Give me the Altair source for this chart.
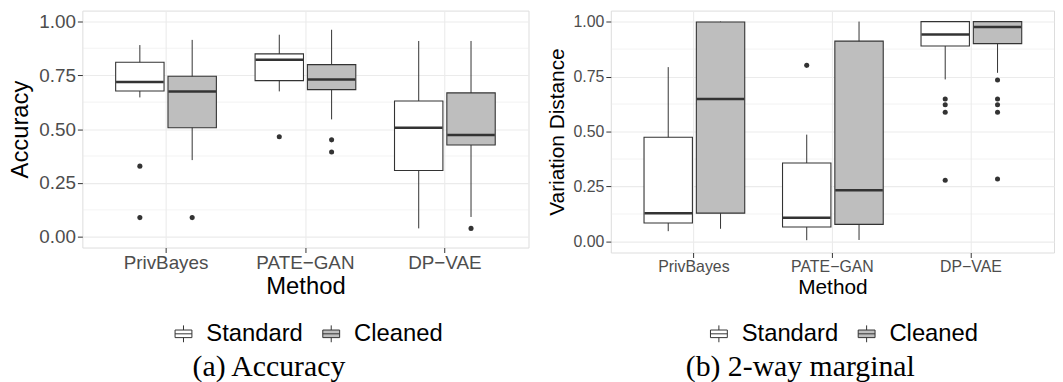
import altair as alt
import pandas as pd

methods = ["PrivBayes", "PATE\u2212GAN", "DP\u2212VAE"]
variants = ["Standard", "Cleaned"]

# order: (PrivBayes Std, PrivBayes Cl, PATE Std, PATE Cl, DPVAE Std, DPVAE Cl)
acc_lower = [0.647, 0.356, 0.675, 0.545, 0.039, 0.092]
acc_q1 = [0.677, 0.506, 0.725, 0.683, 0.308, 0.426]
acc_median = [0.719, 0.674, 0.822, 0.730, 0.506, 0.473]
acc_q3 = [0.810, 0.745, 0.849, 0.799, 0.630, 0.668]
acc_upper = [0.890, 0.914, 0.938, 0.961, 0.909, 0.909]
acc_out_method = ["PrivBayes", "PrivBayes", "PrivBayes", "PATE\u2212GAN", "PATE\u2212GAN", "PATE\u2212GAN", "DP\u2212VAE"]
acc_out_variant = ["Standard", "Standard", "Cleaned", "Standard", "Cleaned", "Cleaned", "Cleaned"]
acc_out_value = [0.328, 0.089, 0.089, 0.464, 0.450, 0.394, 0.039]

tvd_lower = [0.047, 0.058, 0.006, 0.007, 0.737, 0.767]
tvd_q1 = [0.084, 0.129, 0.066, 0.078, 0.889, 0.900]
tvd_median = [0.129, 0.648, 0.108, 0.233, 0.941, 0.975]
tvd_q3 = [0.474, 0.998, 0.357, 0.911, 1.0, 1.0]
tvd_upper = [0.793, 1.0, 0.486, 1.0, 1.0, 1.0]
tvd_out_method = ["PATE\u2212GAN", "DP\u2212VAE", "DP\u2212VAE", "DP\u2212VAE", "DP\u2212VAE",
                  "DP\u2212VAE", "DP\u2212VAE", "DP\u2212VAE", "DP\u2212VAE", "DP\u2212VAE"]
tvd_out_variant = ["Standard", "Standard", "Standard", "Standard", "Standard",
                   "Cleaned", "Cleaned", "Cleaned", "Cleaned", "Cleaned"]
tvd_out_value = [0.801, 0.648, 0.622, 0.588, 0.279, 0.734, 0.648, 0.622, 0.588, 0.284]

y_ticks = [0.0, 0.25, 0.5, 0.75, 1.0]
y_minor = [0.125, 0.375, 0.625, 0.875]

FONT = "Liberation Sans"
DARK = "#333333"
GRID = "#EBEBEB"
BOX_SYMBOL = "M-1,-0.45H1V0.45H-1Z M-1,0H1 M0,-0.45V-1 M0,0.45V1"


def panel(lower, q1, med, q3, upper, om, ov, oval, ytitle, caption,
          width, height, label_size, title_size, leg_x, leg_y, tick_w, cap_off):
    grp_m = [m for m in methods for _ in variants]
    grp_v = [v for _ in methods for v in variants]
    stats = pd.DataFrame({"method": grp_m, "variant": grp_v, "lower": lower,
                          "q1": q1, "median": med, "q3": q3, "upper": upper})
    outs = pd.DataFrame({"method": om, "variant": ov, "value": oval})
    minor = pd.DataFrame({"v": y_minor})

    yscale = alt.Scale(domain=[-0.05, 1.05], nice=False, zero=False)
    xenc = alt.X("method:N", scale=alt.Scale(domain=methods, paddingInner=0, paddingOuter=0.1),
                 axis=alt.Axis(title="Method", labelAngle=0, labelFontSize=label_size,
                               titleFontSize=title_size, labelFont=FONT, titleFont=FONT,
                               labelColor="#4D4D4D", titleColor="black", titleFontWeight="normal",
                               tickColor=DARK, tickSize=5, labelPadding=1, titlePadding=2,
                               domain=False, grid=True, gridColor=GRID, gridWidth=1.1))
    xoff = alt.XOffset("variant:N", scale=alt.Scale(domain=variants, paddingInner=0.075, paddingOuter=0.37))
    yaxis = alt.Axis(title=ytitle, values=y_ticks, format=".2f", labelFontSize=label_size,
                     titleFontSize=title_size, labelFont=FONT, titleFont=FONT,
                     labelColor="#4D4D4D", titleColor="black", titleFontWeight="normal",
                     tickColor=DARK, tickSize=5, labelPadding=2, titlePadding=6,
                     domain=False, grid=True, gridColor=GRID, gridWidth=1.1)

    minor_layer = alt.Chart(minor).mark_rule(color=GRID, strokeWidth=0.6).encode(
        y=alt.Y("v:Q", scale=yscale, axis=yaxis))
    whisk = alt.Chart(stats).mark_rule(color=DARK, strokeWidth=1).encode(
        x=xenc, xOffset=xoff, y=alt.Y("lower:Q", scale=yscale), y2="upper:Q")
    box = alt.Chart(stats).mark_bar(stroke=DARK, strokeWidth=1.1, opacity=1).encode(
        x=xenc, xOffset=xoff, y=alt.Y("q1:Q", scale=yscale), y2="q3:Q",
        fill=alt.Fill("variant:N", scale=alt.Scale(domain=variants, range=["#FFFFFF", "#BEBEBE"]),
                      legend=alt.Legend(title=None, orient="none", direction="horizontal",
                                        legendX=leg_x, legendY=leg_y, symbolType=BOX_SYMBOL,
                                        symbolSize=289, symbolStrokeColor=DARK, symbolStrokeWidth=1,
                                        labelFont=FONT, labelFontSize=24, labelColor="black",
                                        labelOffset=11, columnPadding=16, labelLimit=300)))
    med_layer = alt.Chart(stats).mark_tick(color=DARK, thickness=2.5, size=tick_w, opacity=1).encode(
        x=xenc, xOffset=xoff, y=alt.Y("median:Q", scale=yscale))
    pts = alt.Chart(outs).mark_circle(color=DARK, size=26, opacity=1).encode(
        x=xenc, xOffset=xoff, y=alt.Y("value:Q", scale=yscale))

    return alt.layer(minor_layer, whisk, box, med_layer, pts).properties(
        width=width, height=height,
        title=alt.TitleParams(caption, orient="bottom", anchor="middle", frame="bounds",
                              font="Liberation Serif", fontSize=30, fontWeight="normal",
                              color="black", offset=cap_off))


left = panel(acc_lower, acc_q1, acc_median, acc_q3, acc_upper,
             acc_out_method, acc_out_variant, acc_out_value,
             "Accuracy", "(a) Accuracy", 450, 239, 19, 24, 90, 314, 48, 7)
right = panel(tvd_lower, tvd_q1, tvd_median, tvd_q3, tvd_upper,
              tvd_out_method, tvd_out_variant, tvd_out_value,
              "Variation Distance", "(b) 2-way marginal", 447, 244, 16, 21, 97, 314, 48, 7)

chart = alt.hconcat(left, right, spacing=16).properties(padding=0).resolve_scale(
    fill="independent").resolve_legend(fill="independent").configure_view(
    stroke=DARK, strokeWidth=1.1).configure(background="white")

chart.save("out.html", embed_options={"renderer": "svg", "actions": False})
